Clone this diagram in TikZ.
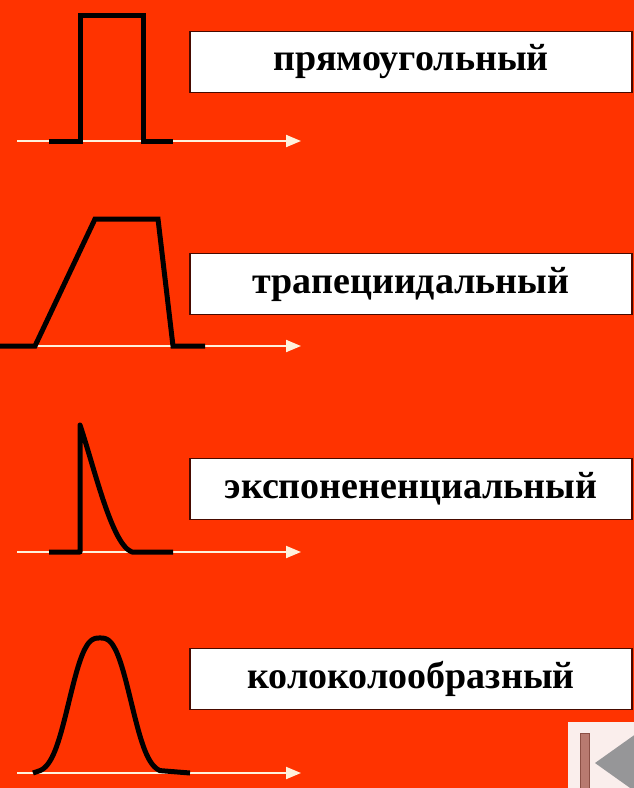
\documentclass[tikz,border=0pt]{standalone}
\usepackage{fontspec}
\setmainfont{Liberation Serif}
\usetikzlibrary{arrows.meta}
\definecolor{bgred}{RGB}{255, 51, 0}
\definecolor{axiscolor}{RGB}{255, 242, 220}
\definecolor{boxborder}{RGB}{70, 10, 0}
\definecolor{navfill}{RGB}{250, 238, 236}
\definecolor{navbar}{RGB}{184, 122, 112}
\definecolor{navbardark}{RGB}{140, 80, 70}
\definecolor{navarrow}{RGB}{150, 150, 152}
\tikzset{
labelbox/.style={
  draw=boxborder,
  line width=1.5pt,
  fill=white,
  minimum width=442pt,
  minimum height=61pt,
  inner sep=0pt,
  font=\fontsize{38}{44}\selectfont\bfseries,
  text=black
},
timeaxis/.style={
  -{Triangle[length=15pt,width=12pt]},
  line width=2pt,
  draw=axiscolor
},
pulse/.style={
  draw=black,
  line width=5pt,
  line join=miter
},
smoothpulse/.style={
  pulse,
  line join=round
}
}

\begin{document}
\begin{tikzpicture}[x=1pt, y=-1pt]
\useasboundingbox (0,0) rectangle (634,788);
\fill[bgred] (0,0) rectangle (634,788);

% ============================================================================
% Прямоугольный
% ============================================================================
\coordinate (ax1s) at (17,141);
\coordinate (ax1e) at (301,141);
\draw[timeaxis] (ax1s) -- (ax1e);
\draw[pulse] (49,141) -- (80,141) -- (80,15) -- (143,15) -- (143,141) -- (173,141);
\node[labelbox] (rectlabel) at (411,62) {прямоугольный};

% ============================================================================
% Трапецеидальный
% ============================================================================
\coordinate (ax2s) at (17,346);
\coordinate (ax2e) at (301,346);
\draw[timeaxis] (ax2s) -- (ax2e);
\draw[pulse] (0,346) -- (35,346) -- (95,219) -- (158,219) -- (173,346) -- (205,346);
\node[labelbox] (traplabel) at (411,284) {трапециидальный};

% ============================================================================
% Экспоненциальный
% ============================================================================
\coordinate (ax3s) at (17,552);
\coordinate (ax3e) at (301,552);
\draw[timeaxis] (ax3s) -- (ax3e);
\draw[smoothpulse] (49,552) -- (80,552) -- (80,425)
  .. controls (95,470) and (112,545) .. (132,552) -- (173,552);
\node[labelbox] (explabel) at (411,489) {экспонененциальный};

% ============================================================================
% Колоколообразный
% ============================================================================
\coordinate (ax4s) at (17,773);
\coordinate (ax4e) at (301,773);
\draw[timeaxis] (ax4s) -- (ax4e);
\draw[smoothpulse] (33,773)
  -- plot[domain=-60:60, samples=100] ({100+\x},{773-135*exp(-((\x*\x)/1331)^1.4)}) -- (190,773);
\node[labelbox] (belllabel) at (411,679) {колоколообразный};

% Кнопка возврата
\begin{scope}
\clip (0,0) rectangle (634,788);
\fill[navfill] (568,722) rectangle (640,795);
\draw[navbardark, fill=navbar, line width=0.8pt] (580,733) rectangle (589,795);
\fill[navarrow] (595,763) -- (640,731) -- (640,795) -- cycle;
\end{scope}

\end{tikzpicture}
\end{document}
